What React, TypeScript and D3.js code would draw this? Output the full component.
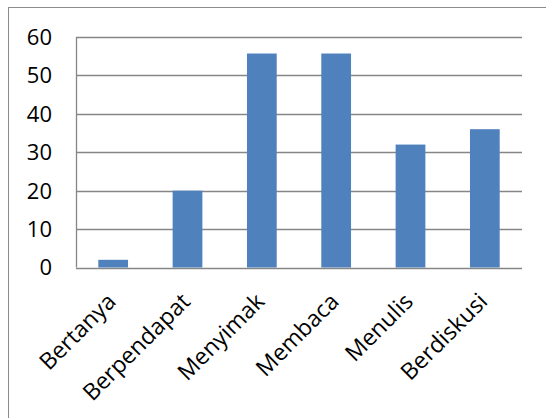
import React from "react";
import * as d3 from "d3";

const categories = ["Bertanya", "Berpendapat", "Menyimak", "Membaca", "Menulis", "Berdiskusi"];
const values = [2, 20, 55.7, 55.7, 32, 36];
const yTicks = [0, 10, 20, 30, 40, 50, 60];

const W = 546;
const H = 418;
const margin = { left: 76, right: 24, top: 37, bottom: 150.5 };
const FONT = "'Open Sans', sans-serif";

export default function App() {
  const x = d3
    .scaleBand<string>()
    .domain(categories)
    .range([margin.left, W - margin.right])
    .paddingInner(0.6)
    .paddingOuter(0.3);
  const y = d3
    .scaleLinear()
    .domain([0, 60])
    .range([H - margin.bottom, margin.top]);

  const grid = "#868686";

  return (
    <svg
      width={W}
      height={H}
      style={{ position: "absolute", left: 0, top: 0, background: "#fff" }}
      fontFamily={FONT}
    >
      {/* outer chart frame */}
      <rect x={8.5} y={7.5} width={W + 20} height={H + 20} fill="none" stroke="#8c8c8c" strokeWidth={1} />

      {/* horizontal gridlines */}
      {yTicks.map((t) => (
        <line
          key={t}
          x1={margin.left}
          x2={W - margin.right}
          y1={Math.round(y(t)) + 0.5}
          y2={Math.round(y(t)) + 0.5}
          stroke={grid}
          strokeWidth={1.3}
        />
      ))}
      {/* value axis line */}
      <line
        x1={margin.left + 0.5}
        x2={margin.left + 0.5}
        y1={y(60)}
        y2={y(0)}
        stroke={grid}
        strokeWidth={1.3}
      />

      {/* tick labels */}
      {yTicks.map((t) => (
        <text
          key={t}
          x={52}
          y={y(t)}
          dy="0.36em"
          textAnchor="end"
          fontSize={22}
          fill="#000"
        >
          {t}
        </text>
      ))}

      {/* bars */}
      {categories.map((c, i) => (
        <rect
          key={c}
          x={x(c)}
          y={y(values[i])}
          width={x.bandwidth()}
          height={y(0) - y(values[i])}
          fill="#4f81bd"
        />
      ))}

      {/* rotated category labels */}
      {categories.map((c) => {
        const cx = (x(c) as number) + x.bandwidth() / 2 + 4;
        const cy = 303;
        return (
          <text
            key={c}
            transform={`translate(${cx},${cy}) rotate(-45)`}
            textAnchor="end"
            fontSize={23}
            fill="#000"
          >
            {c}
          </text>
        );
      })}
    </svg>
  );
}
